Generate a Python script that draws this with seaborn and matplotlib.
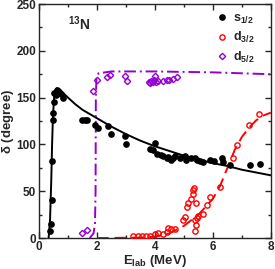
import numpy as np
import pandas as pd
import matplotlib
matplotlib.use("Agg")
import matplotlib.pyplot as plt
import seaborn as sns

# ----- dati -----
s12_E = [0.38, 0.40, 0.43, 0.46, 0.47, 0.48, 0.50, 0.53, 0.57, 0.61, 0.66, 0.70, 0.76, 0.84,
         1.49, 1.58, 1.64, 1.93, 2.03, 2.39, 2.48, 2.97, 3.00, 3.83, 3.94, 4.00, 4.06, 4.20,
         4.29, 4.40, 4.46, 4.57, 4.62, 4.69, 4.85, 5.03, 5.07, 5.26, 5.38, 5.44, 5.55, 5.67,
         5.90, 6.05, 6.30, 6.36, 6.59, 7.28, 7.62]
s12_d = [8, 15, 41, 82, 126, 134, 145, 155, 153, 158, 157, 156, 154, 150,
         126, 126, 126, 121, 118, 120, 111, 109, 101, 95, 94, 102, 90, 89,
         88, 86, 87, 83, 85, 88, 86, 88, 83, 85, 85, 83, 82, 81,
         83, 82, 85, 81, 78, 78, 79]

d32_E = [3.25, 3.40, 3.54, 3.70, 3.83, 4.00, 4.11, 4.29, 4.40, 4.46, 4.55, 4.69, 4.97, 5.02,
         5.11, 5.15, 5.26, 5.30, 5.32, 5.36, 5.38, 5.38, 5.40, 5.40, 5.44, 5.49, 5.67, 5.78,
         5.90, 6.24, 6.70, 6.82, 7.25, 7.60]
d32_d = [2, 2, 2.5, 2, 2, 4, 5, 4, 7, 11, 10, 10, 19, 23,
         33, 37, 42, 47, 51, 53, 19, 8, 37, 14, 21, 24, 26, 35,
         44, 55, 86, 99, 121, 132]

d52_E = [1.47, 1.67, 1.86, 2.01, 2.36, 2.45, 2.97, 3.02, 3.78, 3.83, 3.88, 3.93, 3.97, 4.00,
         4.05, 4.10, 4.29, 4.40, 4.50, 4.62, 4.75]
d52_d = [5, 9, 157, 169, 172, 174, 173, 168, 167, 166, 168, 167, 169, 173,
         167, 168, 168, 169, 169, 170, 172]

# curve teoriche
fit_s_E = [0.33, 0.38, 0.42, 0.45, 0.48, 0.52, 0.57, 0.62, 0.70, 0.80, 1.0, 1.25, 1.5, 2.0,
           2.5, 3.0, 3.5, 4.0, 4.5, 5.0, 5.5, 6.0, 6.5, 7.0, 7.5, 8.0]
fit_s_d = [0, 20, 60, 100, 130, 150, 158, 160, 159, 156, 150, 143, 137, 128,
           119, 111, 104, 98, 93, 88, 84, 80, 77, 73, 70, 67]

fit_d32_E = [2.0, 3.5, 4.0, 4.5, 5.0, 5.5, 6.0, 6.25, 6.5, 6.75, 7.0, 7.25, 7.5, 7.75, 8.0]
fit_d32_d = [0, 0.5, 1.5, 5, 13, 25, 42, 56, 75, 94, 108, 118, 126, 131, 134]

fit_d52_E = [1.75, 1.88, 1.93, 1.95, 1.96, 1.98, 2.05, 2.5, 4.0, 6.0, 8.0]
fit_d52_d = [0, 5, 15, 50, 150, 170, 176, 178, 178, 177, 175]

PURPLE = "#9400d3"

sns.set_style("ticks")
plt.rcParams["font.family"] = ["Liberation Sans", "DejaVu Sans"]
plt.rcParams["font.weight"] = "bold"
plt.rcParams["mathtext.fontset"] = "custom"
plt.rcParams["mathtext.rm"] = "Liberation Sans:bold"
plt.rcParams["mathtext.it"] = "Liberation Sans:bold"
plt.rcParams["mathtext.bf"] = "Liberation Sans:bold"

fig = plt.figure(figsize=(2.75, 2.69), dpi=100)
ax = fig.add_axes([0.142, 0.115, 0.843, 0.87])

# linee
sns.lineplot(x=fit_s_E, y=fit_s_d, sort=False, color="black", lw=1.4, ax=ax, legend=False)
sns.lineplot(x=fit_d32_E, y=fit_d32_d, sort=False, color="red", lw=1.4, ax=ax,
             legend=False).lines[-1].set_dashes([6, 3])
l52 = sns.lineplot(x=fit_d52_E, y=fit_d52_d, sort=False, color=PURPLE, lw=1.4, ax=ax, legend=False)
l52.lines[-1].set_dashes([6, 2, 1, 2])

# punti sperimentali
ax.plot(s12_E, s12_d, "o", ms=3.8, color="black", label=r"s$_{1/2}$", zorder=5)
ax.plot(d32_E, d32_d, "o", ms=3.8, mfc="none", mec="red", mew=1.0, label=r"d$_{3/2}$", zorder=5)
ax.plot(d52_E, d52_d, "D", ms=3.2, mfc="none", mec=PURPLE, mew=1.0, label=r"d$_{5/2}$", zorder=5)

ax.set_xlim(0, 8)
ax.set_ylim(0, 250)
ax.set_xticks([0, 2, 4, 6, 8])
ax.set_xticks([1, 3, 5, 7], minor=True)
ax.set_yticks([0, 50, 100, 150, 200, 250])
ax.set_yticks([25, 75, 125, 175, 225], minor=True)
ax.tick_params(which="both", direction="in", top=True, right=True, labelsize=8.5, width=1, pad=2)
ax.tick_params(which="major", length=4)
ax.tick_params(which="minor", length=2.5)
for sp in ax.spines.values():
    sp.set_linewidth(1)

ax.set_xlabel(r"E$_{\rm lab}$ (MeV)", fontsize=9.5, fontweight="bold", labelpad=0)
ax.set_ylabel(r"$\delta$ (degree)", fontsize=9.5, fontweight="bold", labelpad=0)
ax.text(1.0, 222, r"$^{13}$N", fontsize=10, fontweight="bold")

leg = ax.legend(loc="upper left", bbox_to_anchor=(0.74, 0.985), frameon=False, fontsize=9,
                handletextpad=0.4, handlelength=1.0, labelspacing=0.35, borderaxespad=0)

fig.savefig("out.png", dpi=100)
